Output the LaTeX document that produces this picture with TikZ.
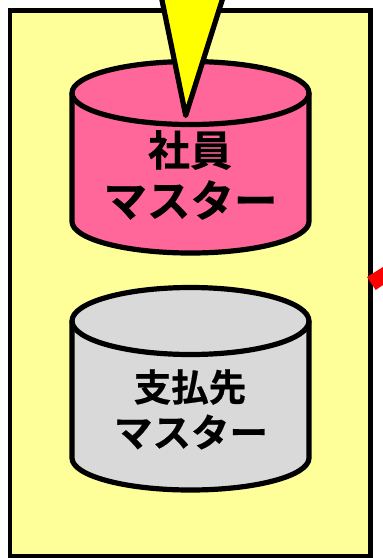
\documentclass[tikz,border=0pt]{standalone}
\usepackage{fontspec}
\newfontfamily\cjkbold[FakeBold=0.5]{Noto Sans CJK JP Bold}
\tikzset{
  frame/.style={draw=black,line width=4.8pt,fill=paleyellow,line join=miter},
  cyl/.style={draw=black,line width=5.2pt,line join=round},
}
\definecolor{paleyellow}{HTML}{FFFF99}
\definecolor{pinkdb}{HTML}{FF6699}
\definecolor{graydb}{HTML}{D9D9D9}
\definecolor{wedgey}{HTML}{FFFF00}
\tikzset{
  lbl/.style={align=center,text=black,inner sep=0pt},
  lblA/.style={lbl,font=\cjkbold\fontsize{42}{50}\selectfont},
  lblB/.style={lbl,font=\cjkbold\fontsize{43.5}{50}\selectfont},
  lblC/.style={lbl,font=\cjkbold\fontsize{37.5}{45}\selectfont},
  lblD/.style={lbl,font=\cjkbold\fontsize{38.5}{45}\selectfont},
}
\begin{document}
\begin{tikzpicture}[x=1pt,y=-1pt]
\useasboundingbox (0,0) rectangle (383,558);
\clip (0,0) rectangle (383,558);
\fill[white] (0,0) rectangle (383,558);
% outer frame
\draw[frame] (10,10.5) rectangle (370.5,556);
% red fragment
\fill[red] (367,277) -- (375.7,290) -- (383,285) -- (383,267) -- cycle;
% pink cylinder
\draw[cyl,fill=pinkdb] (72,93) -- (72,221.5) arc[start angle=180,end angle=0,x radius=118.5,y radius=31.5] -- (309,93) arc[start angle=0,end angle=-180,x radius=118.5,y radius=31.5] -- cycle;
\draw[cyl] (72,93) arc[start angle=180,end angle=0,x radius=118.5,y radius=31.5];
% yellow wedge
\draw[line width=5.2pt,fill=wedgey,line join=round] (159.5,-12) -- (185.7,115.5) -- (226,-12);
% gray cylinder
\draw[cyl,fill=graydb] (72,321) -- (72,458) arc[start angle=180,end angle=0,x radius=118.5,y radius=32] -- (309,321) arc[start angle=0,end angle=-180,x radius=118.5,y radius=33.5] -- cycle;
\draw[cyl] (72,321) arc[start angle=180,end angle=0,x radius=118.5,y radius=33.5];
% labels
\node[lblA] (n1) at (190,150) {社員};
\node[lblB] (n2) at (190.5,200) {マスター};
\node[lblC] (n3) at (190,387) {支払先};
\node[lblD] (n4) at (191,432) {マスター};
\end{tikzpicture}
\end{document}
